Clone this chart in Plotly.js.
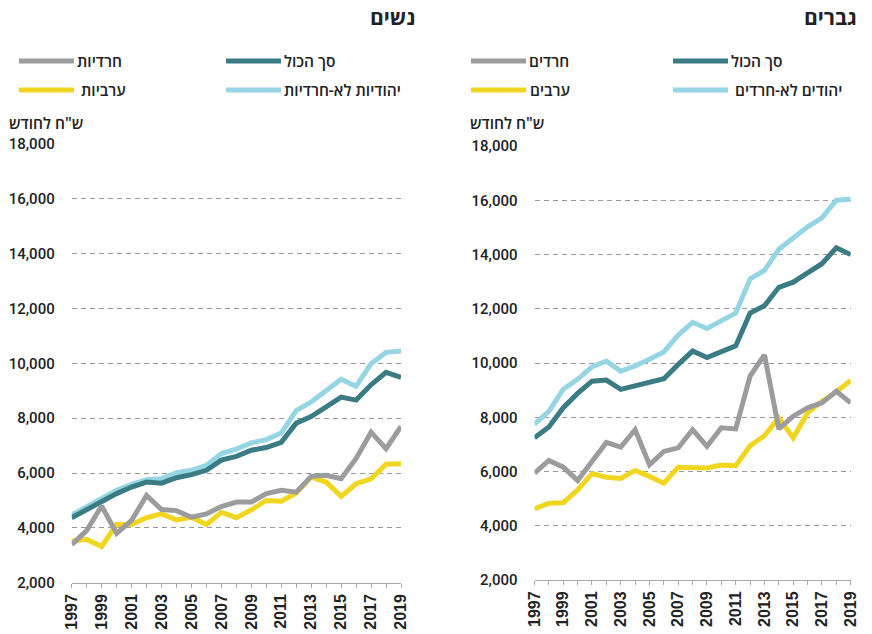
<!DOCTYPE html>
<html>
<head>
<meta charset="utf-8">
<script src="https://cdn.plot.ly/plotly-3.0.1.min.js"></script>
<style>html,body{margin:0;padding:0;background:#fff;}#chart{width:872px;height:634px;}</style>
</head>
<body>
<div id="chart"></div>
<script>
// ---------- data ----------
const years = [1997,1998,1999,2000,2001,2002,2003,2004,2005,2006,2007,2008,2009,2010,2011,2012,2013,2014,2015,2016,2017,2018,2019];

// Women (נשים)
const womenTotal     = [4370,4670,4960,5250,5490,5670,5630,5830,5940,6100,6470,6610,6830,6930,7120,7820,8060,8430,8770,8660,9220,9670,9490];
const womenNonHaredi = [4470,4760,5030,5370,5590,5760,5790,6010,6100,6280,6710,6870,7100,7220,7460,8280,8590,8990,9420,9160,9990,10400,10450];
const womenHaredi    = [3390,3900,4800,3800,4270,5180,4670,4630,4390,4510,4780,4940,4940,5250,5370,5300,5880,5920,5790,6530,7490,6890,7700];
const womenArab      = [3510,3580,3320,4120,4120,4370,4510,4290,4390,4120,4570,4370,4660,5000,4970,5270,5850,5670,5150,5610,5790,6320,6340];

// Men (גברים)
const menTotal     = [7240,7640,8350,8880,9330,9370,9030,9150,9270,9420,9950,10440,10200,10410,10630,11840,12110,12790,12980,13320,13660,14250,14000];
const menNonHaredi = [7750,8220,9030,9400,9860,10070,9700,9890,10140,10410,11030,11500,11270,11560,11840,13100,13410,14190,14610,15020,15350,16000,16040];
const menHaredi    = [5940,6410,6160,5670,6370,7070,6900,7540,6250,6740,6870,7540,6930,7610,7570,9520,10300,7570,8040,8350,8530,8960,8530];
const menArab      = [4620,4830,4850,5320,5920,5790,5740,6040,5820,5570,6160,6160,6130,6240,6210,6950,7320,7980,7240,8160,8590,8930,9360];

// labels
const panelTitles = ['נשים','גברים'];
const womenLabels = {total:'סך הכול', nonHaredi:'יהודיות לא-חרדיות', haredi:'חרדיות', arab:'ערביות'};
const menLabels   = {total:'סך הכול', nonHaredi:'יהודים לא-חרדים', haredi:'חרדים', arab:'ערבים'};
const unitLabel = 'ש"ח לחודש';

// ---------- styles ----------
const C = {total:'#3b7c84', nonHaredi:'#96d5e3', haredi:'#9c9c9e', arab:'#f1d620'};
const W = 872, H = 634;
const px = x => x / W;
const py = y => 1 - y / H;
const hebFont = 'Open Sans, Liberation Sans, DejaVu Sans, sans-serif';

function line(x, y, color, name, xa, ya) {
  return {x:x, y:y, type:'scatter', mode:'lines', name:name, xaxis:xa, yaxis:ya,
          line:{color:color, width:5}, hoverinfo:'x+y+name'};
}

const traces = [
  line(years, womenNonHaredi, C.nonHaredi, womenLabels.nonHaredi, 'x', 'y'),
  line(years, womenTotal,     C.total,     womenLabels.total,     'x', 'y'),
  line(years, womenArab,      C.arab,      womenLabels.arab,      'x', 'y'),
  line(years, womenHaredi,    C.haredi,    womenLabels.haredi,    'x', 'y'),
  line(years, menNonHaredi, C.nonHaredi, menLabels.nonHaredi, 'x2', 'y2'),
  line(years, menTotal,     C.total,     menLabels.total,     'x2', 'y2'),
  line(years, menArab,      C.arab,      menLabels.arab,      'x2', 'y2'),
  line(years, menHaredi,    C.haredi,    menLabels.haredi,    'x2', 'y2'),
];

const xCommon = {
  range:[1997,2019], tickmode:'linear', tick0:1997, dtick:2,
  ticks:'outside', ticklen:4, tickwidth:1, tickcolor:'#aaa',
  showline:true, linecolor:'#aaa', linewidth:1, showgrid:false, zeroline:false,
  tickangle:-90,
  tickfont:{family:'Liberation Sans, Arial, sans-serif', size:16, color:'#222', weight:'bold'},
  minor:{tick0:1997, dtick:1, ticks:'outside', ticklen:4, tickwidth:1, tickcolor:'#aaa', showgrid:false},
  fixedrange:true
};
const yCommon = {
  range:[2000,18000], tickmode:'linear', tick0:2000, dtick:2000, tickformat:',d',
  showgrid:true, gridcolor:'#999', gridwidth:1, griddash:'5px,4px',
  zeroline:false, showline:false, ticks:'',
  ticklabelstandoff:16,
  tickfont:{family:'Roboto, sans-serif', size:15, color:'#222', weight:500},
  fixedrange:true
};

const annotations = [];
const shapes = [];
function text(t, x, y, anchor, size, weight) {
  annotations.push({text:t, xref:'paper', yref:'paper', x:px(x), y:py(y), xanchor:anchor, yanchor:'middle',
    showarrow:false, borderpad:0, font:{family:hebFont, size:size, color:'#222', weight:weight}});
}
function legLine(x0, x1, y, color) {
  shapes.push({type:'line', xref:'paper', yref:'paper', x0:px(x0), x1:px(x1), y0:py(y), y1:py(y),
    line:{color:color, width:5}});
}

// panel titles
text(panelTitles[0], 416, 17, 'right', 21, 'bold');
text(panelTitles[1], 858, 17, 'right', 21, 'bold');

// legends
const legendPos = [
  {col1:19, col2:226},
  {col1:471, col2:673}
];
[womenLabels, menLabels].forEach((lab, i) => {
  const p = legendPos[i];
  legLine(p.col1, p.col1+55, 61, C.haredi);    text(lab.haredi, p.col1+57, 61, 'left', 15.5, 600);
  legLine(p.col2, p.col2+55, 61, C.total);     text(lab.total,  p.col2+57, 61, 'left', 15.5, 600);
  legLine(p.col1, p.col1+55, 90, C.arab);      text(lab.arab,   p.col1+(i===0?61:58), 90, 'left', 15.5, 600);
  legLine(p.col2, p.col2+55, 90, C.nonHaredi); text(lab.nonHaredi, p.col2+(i===0?57:61), 90, 'left', 15.5, 600);
});
// unit labels
text(unitLabel, 8, 123, 'left', 15.5, 600);
text(unitLabel, 469, 123, 'left', 15.5, 600);

const layout = {
  width:W, height:H, margin:{l:0, r:0, t:0, b:0},
  paper_bgcolor:'#fff', plot_bgcolor:'#fff', showlegend:false,
  xaxis: Object.assign({}, xCommon, {domain:[px(71.7), px(401)], anchor:'y'}),
  yaxis: Object.assign({}, yCommon, {domain:[py(582.7), py(144)], anchor:'x'}),
  xaxis2: Object.assign({}, xCommon, {domain:[px(534.5), px(850.7)], anchor:'y2'}),
  yaxis2: Object.assign({}, yCommon, {domain:[py(580), py(146)], anchor:'x2'}),
  annotations: annotations,
  shapes: shapes
};

Plotly.newPlot('chart', traces, layout, {displayModeBar:false});
</script>
</body>
</html>
